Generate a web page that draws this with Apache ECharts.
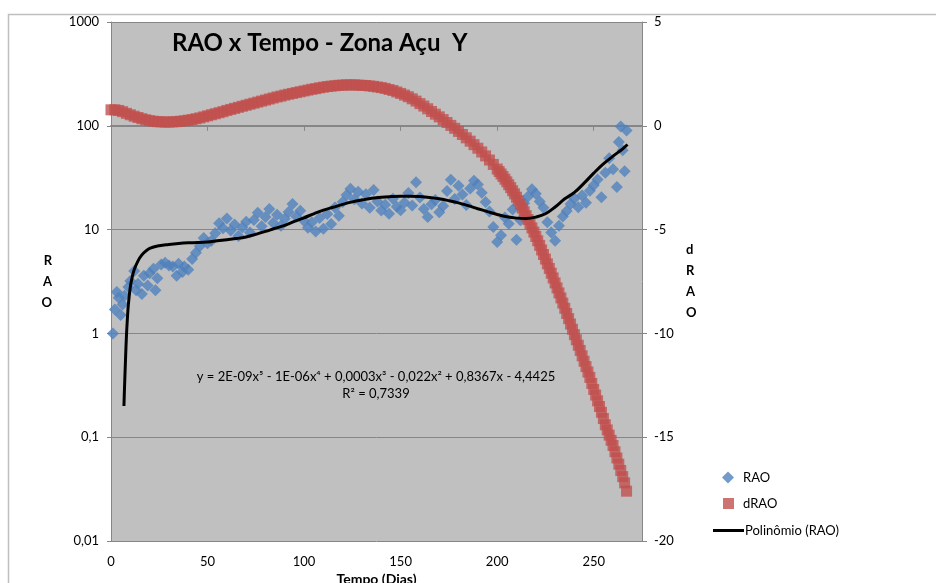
<!DOCTYPE html>
<html lang="pt">
<head>
<meta charset="UTF-8">
<title>RAO x Tempo - Zona Açu Y</title>
<script src="https://cdn.jsdelivr.net/npm/echarts@6/dist/echarts.min.js"></script>
<style>
  html, body { margin: 0; padding: 0; background: #fff; }
  #main { width: 936px; height: 583px; }
</style>
</head>
<body>
<div id="main"></div>
<script>
// RAO medido (eixo esquerdo, log)
var raoDias = [1,2,3,4,5,6,7,9,10,12,13,14,16,17,19,20,22,23,24,26,28,30,32,34,35,37,38,40,42,44,46,48,50,52,54,56,58,60,62,64,66,68,70,72,74,76,78,80,82,84,86,88,90,92,94,96,98,100,102,104,106,108,110,112,114,116,118,120,122,124,126,128,130,132,134,136,138,140,142,144,146,148,150,152,154,156,158,160,162,164,166,168,170,172,174,176,178,180,182,184,186,188,190,192,194,196,198,200,202,204,206,208,210,212,214,216,218,220,222,224,226,228,230,232,234,236,238,240,242,244,246,248,250,252,254,256,258,260,262,263,264,265,266,267];
var raoValores = [1.0,1.7,2.5,2.2,1.5,1.9,2.3,2.8,3.2,4.0,2.6,3.0,2.4,3.6,2.9,3.8,4.2,2.6,3.4,4.6,4.8,4.5,4.4,3.6,4.7,3.9,4.4,4.1,5.2,6.0,6.9,8.3,7.4,7.8,9.2,11.5,10.3,12.8,9.8,11.2,8.7,10.5,11.9,9.4,12.4,14.5,10.8,13.2,15.8,11.6,13.9,10.9,12.7,14.8,17.6,13.4,15.2,12.1,10.4,11.8,9.6,12.9,10.2,14.1,11.3,16.3,13.6,18.4,21.5,24.8,19.6,23.2,17.8,21.9,16.2,24.1,18.7,15.3,17.4,14.2,19.8,16.6,15.4,18.2,22.5,17.1,28.6,20.4,15.8,13.2,17.5,19.3,14.7,16.9,23.6,30.2,19.7,26.4,21.8,17.3,24.9,29.5,27.2,22.6,18.4,14.9,10.6,7.6,8.8,13.1,11.4,15.6,8.0,12.3,17.9,20.8,24.5,22.1,18.6,16.2,11.8,9.4,7.8,10.9,13.4,15.1,17.6,19.9,16.4,21.3,18.1,23.7,26.8,30.4,20.5,35.2,48.6,38.1,25.7,70.0,98.5,58.0,36.5,90.0];

// dRAO (eixo direito)
var dDias = [0,2,4,6,8,10,12,14,16,18,20,22,24,26,28,30,32,34,36,38,40,42,44,46,48,50,52,54,56,58,60,62,64,66,68,70,72,74,76,78,80,82,84,86,88,90,92,94,96,98,100,102,104,106,108,110,112,114,116,118,120,122,124,126,128,130,132,134,136,138,140,142,144,146,148,150,152,154,156,158,160,162,164,166,168,170,172,174,176,178,180,182,184,186,188,190,192,194,196,198,200,201,202,203,204,205,206,207,208,209,210,211,212,213,214,215,216,217,218,219,220,221,222,223,224,225,226,227,228,229,230,231,232,233,234,235,236,237,238,239,240,241,242,243,244,245,246,247,248,249,250,251,252,253,254,255,256,257,258,259,260,261,262,263,264,265,266,267];
var dValores = [0.77,0.77,0.74,0.68,0.60,0.53,0.46,0.40,0.34,0.29,0.25,0.22,0.20,0.19,0.18,0.18,0.19,0.20,0.22,0.24,0.27,0.30,0.34,0.38,0.43,0.48,0.53,0.58,0.63,0.68,0.74,0.79,0.84,0.89,0.94,0.99,1.04,1.09,1.14,1.19,1.24,1.29,1.34,1.39,1.43,1.48,1.52,1.56,1.60,1.64,1.68,1.72,1.76,1.79,1.83,1.86,1.89,1.91,1.93,1.95,1.96,1.97,1.97,1.97,1.96,1.95,1.94,1.92,1.90,1.87,1.84,1.80,1.75,1.70,1.63,1.56,1.48,1.40,1.30,1.19,1.07,0.95,0.82,0.69,0.56,0.43,0.30,0.16,0.02,-0.12,-0.27,-0.42,-0.58,-0.74,-0.91,-1.08,-1.26,-1.45,-1.65,-1.86,-2.08,-2.20,-2.32,-2.44,-2.57,-2.70,-2.84,-2.98,-3.13,-3.28,-3.44,-3.61,-3.78,-3.96,-4.14,-4.33,-4.52,-4.72,-4.92,-5.12,-5.33,-5.54,-5.76,-5.98,-6.20,-6.42,-6.65,-6.87,-7.10,-7.33,-7.57,-7.81,-8.05,-8.29,-8.54,-8.79,-9.04,-9.29,-9.55,-9.80,-10.06,-10.31,-10.57,-10.82,-11.08,-11.34,-11.60,-11.86,-12.12,-12.41,-12.70,-12.97,-13.25,-13.52,-13.80,-14.10,-14.40,-14.65,-14.90,-15.15,-15.40,-15.70,-16.00,-16.30,-16.60,-16.90,-17.20,-17.60];

// Polinômio (RAO) - linha de tendência
var polDias = [6.7,7,7.5,8,8.5,9,10,11,12,14,16,18,20,25,30,35,40,45,50,55,60,65,70,75,80,85,90,95,100,105,110,115,120,125,130,135,140,145,150,155,160,165,170,175,180,185,190,195,200,205,210,215,220,225,230,235,240,245,250,255,260,265,267.5];
var polValores = [0.2,0.3,0.55,0.95,1.4,1.9,2.8,3.5,4.1,5.0,5.7,6.2,6.6,7.0,7.2,7.35,7.45,7.5,7.6,7.8,8.0,8.2,8.5,9.0,9.6,10.3,11.0,12.0,13.0,14.2,15.4,16.4,17.5,18.5,19.3,20.0,20.5,20.8,21.0,21.0,20.8,20.4,19.8,19.0,18.1,17.0,15.9,14.9,14.0,13.3,12.9,12.8,13.2,14.2,16.5,19.8,22.8,28.0,35.0,43.0,51.0,60.0,66.0];

function pares(xs, ys) {
  return xs.map(function (x, i) { return [x, ys[i]]; });
}

var fonte = 'Lato, "Liberation Sans", sans-serif';
var cinza = '#868686';

var myChart = echarts.init(document.getElementById('main'));

myChart.setOption({
  animation: false,
  textStyle: { fontFamily: fonte },
  grid: {
    left: 111, right: 294, top: 22, bottom: 42,
    outerBoundsMode: 'none', containLabel: false,
    show: true, backgroundColor: '#C0C0C0', borderWidth: 0
  },
  graphic: [
    {
      type: 'rect', z: -10, silent: true,
      shape: { x: 8.5, y: 14.5, width: 1000, height: 700 },
      style: { fill: 'none', stroke: '#BFBFBF', lineWidth: 1.5 }
    },
    {
      type: 'text', left: 172, top: 31, z: 10,
      style: { text: 'RAO x Tempo - Zona Açu  Y', font: 'bold 24px ' + fonte, fill: '#000' }
    },
    {
      type: 'text', x: 376, y: 377, z: 10,
      style: {
        text: 'y = 2E-09x⁵ - 1E-06x⁴ + 0,0003x³ - 0,022x² + 0,8367x - 4,4425',
        font: '13px ' + fonte, fill: '#000', align: 'center', verticalAlign: 'middle'
      }
    },
    {
      type: 'text', x: 376, y: 394, z: 10,
      style: { text: 'R² = 0,7339', font: '13px ' + fonte, fill: '#000', align: 'center', verticalAlign: 'middle' }
    }
  ],
  legend: [
    {
      data: [{ name: 'RAO', icon: 'diamond' }],
      orient: 'vertical', left: 717, top: 466,
      itemWidth: 12, itemHeight: 12,
      textStyle: { fontSize: 13, color: '#000', padding: [0, 0, 0, 4] }
    },
    {
      data: [{ name: 'dRAO', icon: 'rect' }],
      orient: 'vertical', left: 718, top: 492,
      itemWidth: 11, itemHeight: 11,
      textStyle: { fontSize: 13, color: '#000', padding: [0, 0, 0, 4] }
    },
    {
      data: [{ name: 'Polinômio (RAO)', icon: 'rect' }],
      orient: 'vertical', left: 708, top: 519,
      itemWidth: 31, itemHeight: 3,
      textStyle: { fontSize: 13, color: '#000', padding: [0, 0, 0, -4] }
    }
  ],
  xAxis: {
    type: 'value', min: 0, max: 275, interval: 50,
    name: 'Tempo (Dias)', nameLocation: 'middle', nameGap: 31,
    nameTextStyle: { fontWeight: 'bold', fontSize: 14, color: '#000' },
    axisLine: { lineStyle: { color: cinza, width: 2 } },
    axisTick: { show: true, length: 5, lineStyle: { color: cinza } },
    axisLabel: { showMaxLabel: false, fontSize: 13, color: '#000', margin: 14 },
    splitLine: { show: false }
  },
  yAxis: [
    {
      type: 'log', logBase: 10, min: 0.01, max: 1000,
      name: 'R\nA\nO', nameLocation: 'middle', nameGap: 59, nameRotate: 0,
      nameTextStyle: { fontWeight: 'bold', fontSize: 13, color: '#000', lineHeight: 21, padding: [18, 0, 0, 0] },
      axisLine: { show: true, lineStyle: { color: cinza } },
      axisTick: { show: true, length: 4, lineStyle: { color: cinza } },
      axisLabel: {
        fontSize: 13, color: '#000', margin: 12,
        formatter: function (v) { return String(+v.toPrecision(3)).replace('.', ','); }
      },
      splitLine: { show: true, lineStyle: { color: cinza, width: 1 } },
      minorTick: { show: false }
    },
    {
      type: 'value', min: -20, max: 5, interval: 5,
      name: 'd\nR\nA\nO', nameLocation: 'middle', nameGap: 44, nameRotate: 0,
      nameTextStyle: { fontWeight: 'bold', fontSize: 13, color: '#000', lineHeight: 21, padding: [12, 0, 0, 0] },
      axisLine: { show: true, lineStyle: { color: cinza } },
      axisTick: { show: true, length: 5, lineStyle: { color: cinza } },
      axisLabel: { fontSize: 13, color: '#000', margin: 12 },
      splitLine: { show: false }
    }
  ],
  series: [
    {
      name: 'RAO', type: 'scatter', yAxisIndex: 0,
      symbol: 'diamond', symbolSize: 12,
      itemStyle: { color: '#4F81BD' },
      data: pares(raoDias, raoValores), z: 2
    },
    {
      name: 'dRAO', type: 'scatter', yAxisIndex: 1,
      symbol: 'rect', symbolSize: 11,
      itemStyle: { color: '#C0504D' },
      data: pares(dDias, dValores), z: 3
    },
    {
      name: 'Polinômio (RAO)', type: 'line', yAxisIndex: 0,
      showSymbol: false, symbol: 'none', smooth: 0.4,
      lineStyle: { color: '#000', width: 3 },
      itemStyle: { color: '#000' },
      data: pares(polDias, polValores), z: 4
    }
  ]
});
</script>
</body>
</html>
